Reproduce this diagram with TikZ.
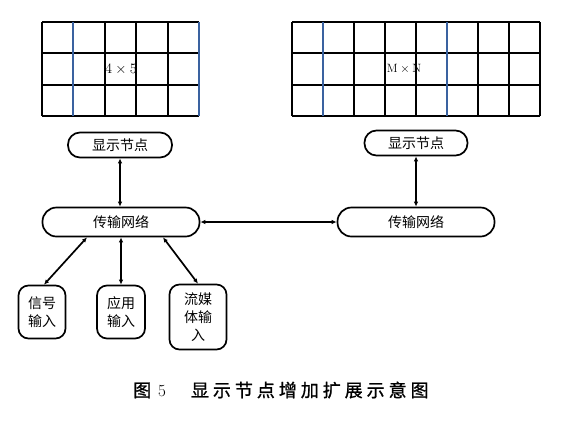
\documentclass[tikz,border=0pt]{standalone}
\usepackage{fontspec}
\newfontfamily\hei{Noto Sans CJK SC}
\newfontfamily\capfont[LetterSpace=22,FakeBold=1]{Noto Sans CJK SC}
\usetikzlibrary{positioning,arrows.meta}
\definecolor{gridblue}{RGB}{58,98,160}

\begin{document}
\begin{tikzpicture}[x=1pt,y=-1pt,
    pill/.style={draw,line width=1.7pt,rounded corners=12pt,minimum height=25pt,inner sep=0pt,
      font=\hei\fontsize{14}{16}\selectfont},
    netpill/.style={pill,minimum width=157pt,minimum height=29pt,rounded corners=14pt},
    inbox/.style={draw,line width=1.7pt,rounded corners=10pt,align=center,inner sep=0pt,
      font=\hei\fontsize{14}{18}\selectfont},
    gridline/.style={line width=2pt},
    link/.style={line width=1.7pt,{Latex[length=5pt,width=4.5pt]}-{Latex[length=5pt,width=4.5pt]}}]
  \useasboundingbox (0,0) rectangle (572,421);

  % display walls
  \foreach \j in {0,...,3} {
    \draw[gridline] (42,22+\j*31.3) -- (199,22+\j*31.3);
    \draw[gridline] (292,22+\j*31.3) -- (540,22+\j*31.3);
  }
  \foreach \x/\c in {42/black,73/gridblue,105/black,136/black,168/black,199/gridblue}
    \draw[gridline,\c] (\x,22) -- ++(0,94);
  \foreach \i/\c in {0/black,1/gridblue,2/black,3/black,4/black,5/gridblue,6/black,7/black,8/black}
    \draw[gridline,\c] (292+\i*31,22) -- ++(0,94);
  \node[font=\fontsize{14}{16}\selectfont] (wall1) at (121,69) {$4\times5$};
  \node[font=\fontsize{12}{14}\selectfont] (wall2) at (404,69) {$\mathrm{M}\times\mathrm{N}$};

  % nodes
  \node[pill,minimum width=104pt] (disp1) at (120,145) {显示节点};
  \node[netpill] (net1) at (121,222) {传输网络};
  \node[pill,minimum width=103pt] (disp2) at (416,143) {显示节点};
  \node[netpill] (net2) at (416,222) {传输网络};
  \node[inbox,minimum width=47pt,minimum height=53pt] (sig) at (42,312) {信号\\输入};
  \node[inbox,minimum width=48pt,minimum height=53pt] (app) at (121,312) {应用\\输入};
  \node[inbox,minimum width=57pt,minimum height=65pt] (media) at (198,317) {流媒\\体输\\入};

  % links
  \draw[link] (disp1.south) -- (disp1.south |- net1.north);
  \draw[link] (disp2.south) -- (disp2.south |- net2.north);
  \draw[link] (net1) -- (net2);
  \draw[link] ([xshift=2pt]sig.north) -- ([xshift=-34pt]net1.south);
  \draw[link] (app.north) -- (app.north |- net1.south);
  \draw[link] (media.north) -- ([xshift=42pt]net1.south);

  % caption
  \node[anchor=west,inner sep=0pt,font=\fontsize{17}{20}\selectfont] (cap) at (133,390)
    {{\capfont\fontsize{18}{20}\selectfont 图}\hspace{7pt}5\hspace{25pt}{\capfont\fontsize{18}{20}\selectfont 显示节点增加扩展示意图}};
\end{tikzpicture}
\end{document}
